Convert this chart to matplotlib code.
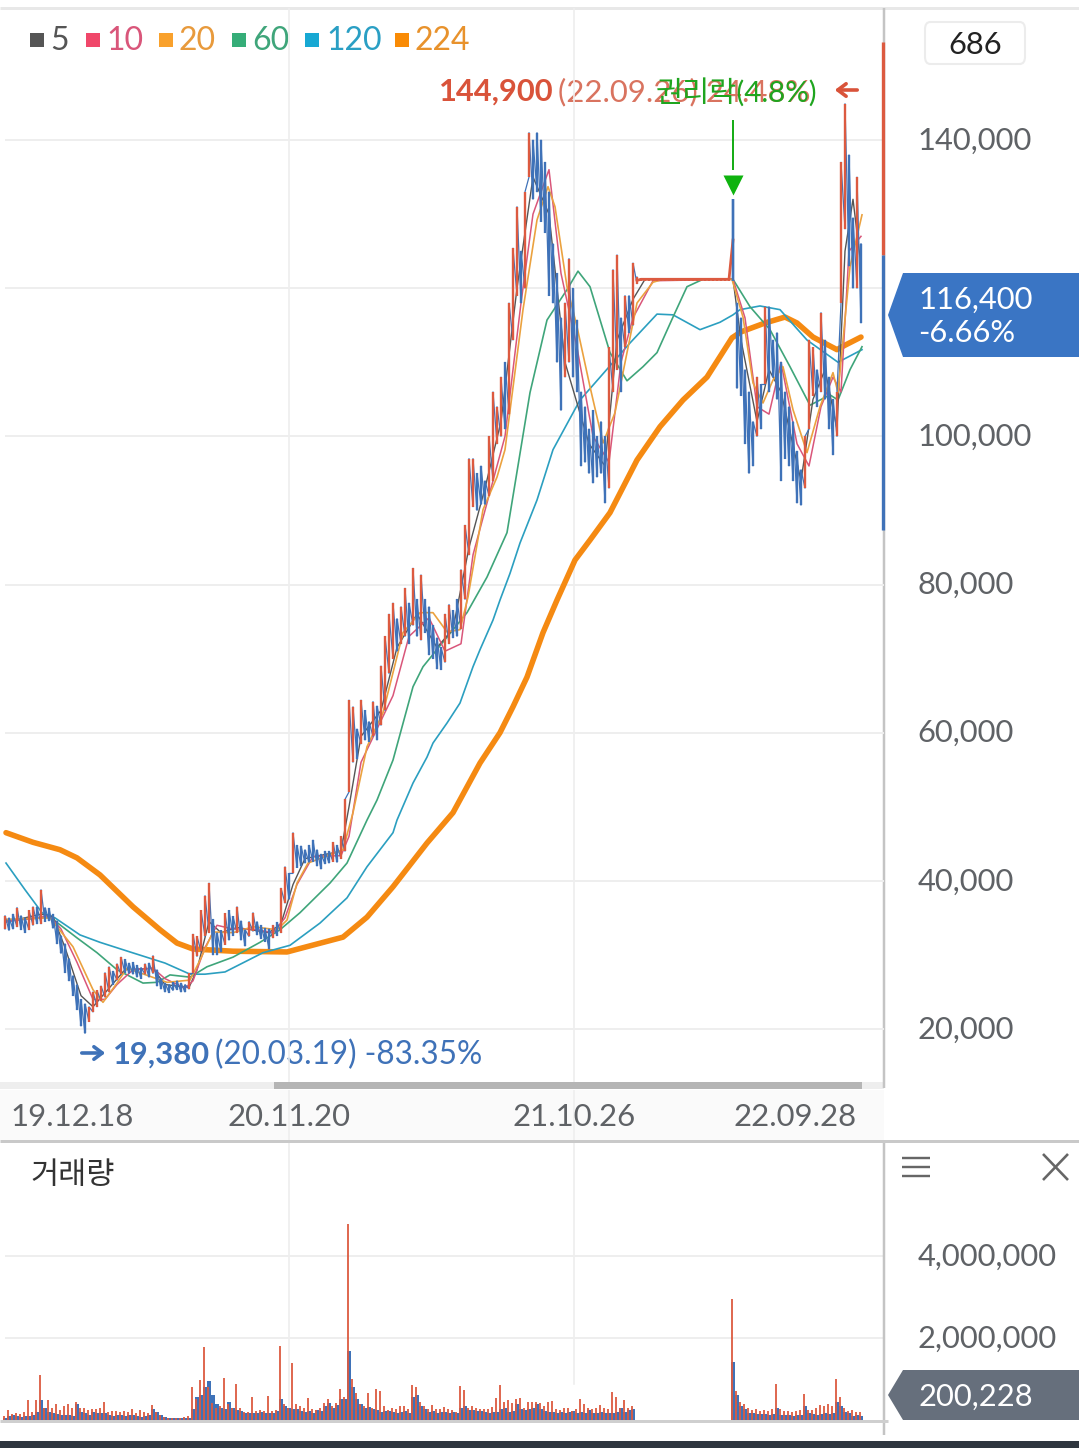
import numpy as np
import matplotlib
matplotlib.use('Agg')
import matplotlib.pyplot as plt
from matplotlib.lines import Line2D
from matplotlib.patches import Rectangle, Polygon, FancyBboxPatch, FancyArrowPatch
from matplotlib.transforms import ScaledTranslation

W, H = 1079, 1448
plt.rcParams['font.family'] = ['Lato', 'Noto Sans CJK KR', 'DejaVu Sans']

# price in thousands of won, one candle per chart step
candle_high = [35.3, 35, 35.5, 36.4, 35.3, 35, 36, 36.5, 36.5, 38.8, 36.4, 36.3, 35.5, 34.6, 32.6, 31.5, 29.5, 27.2, 26, 24,
               23.4, 23, 25, 25.2, 25.8, 27.6, 28.4, 27.8, 28.8, 29.7, 29.4, 28.9, 29, 28.6, 28.3, 28.8, 28.9, 29.9, 28, 26.8,
               26.2, 26, 26.3, 26.5, 26.2, 26, 27.5, 32.8, 32.5, 36, 38, 39.7, 34.8, 33, 33.3, 35.6, 36, 35.2, 36.5, 34.6,
               33.4, 34.5, 35.7, 34.5, 34, 33.6, 33.5, 34, 34.4, 39, 41.9, 41, 46.5, 44.8, 44.7, 44.2, 44.8, 45.5, 44.2, 43.6,
               44, 44, 45.2, 44.8, 46, 51, 64.4, 63.5, 60.5, 64.4, 63, 61.5, 64.2, 63.6, 69, 73, 76, 77.5, 75.4, 77,
               79.5, 77.5, 82.2, 78, 81.3, 78, 77, 74.5, 72.8, 71.5, 76, 77.3, 76.5, 78, 82, 88, 97, 97, 95, 96,
               94, 100, 106, 104, 108, 110, 118, 125.4, 131, 125, 133, 141, 140, 141, 140, 137, 133, 126, 122, 116,
               118, 124, 120, 115.7, 106, 104, 101, 103.5, 100, 102, 100, 112, 122.5, 124.5, 116, 119, 119, 123.4, 121.5]
candle_low = [33.5, 33.3, 33.5, 33.8, 33.4, 33, 33.4, 34, 34.2, 34.2, 34.5, 34.6, 33.6, 31.5, 30.2, 27.6, 26.5, 24.5, 22.6, 20.4,
              19.4, 21, 22.3, 23, 23.8, 24.3, 25, 26, 26.6, 27.4, 27.6, 27.5, 27.4, 27, 26.8, 27.4, 27, 27.5, 25.8, 25.4,
              25, 24.9, 25.2, 25.3, 25, 25, 25.4, 27.5, 29.8, 30.5, 32.5, 33, 30, 30, 30.4, 31.4, 32, 32.6, 33, 32,
              31.2, 32.5, 33.2, 32.7, 32.2, 31.8, 30.8, 32.3, 32.6, 33, 37, 37.5, 41, 41.8, 42, 42.4, 42.5, 42.6, 42, 41.6,
              42.3, 42.4, 42.6, 42.5, 43, 44, 52, 56, 56.5, 58.5, 59, 58.8, 59.5, 59, 61, 63, 68, 70, 71, 72,
              73, 72, 74.5, 73, 72.5, 73.5, 70.5, 70, 68.6, 68.5, 69.5, 72, 72.8, 73, 74, 78, 84, 90.5, 90, 90.8,
              90.8, 92, 94, 99, 100, 101, 103, 113, 119, 118, 120, 135, 132, 133, 129, 127.5, 119, 118, 110, 103.5,
              108, 110, 108, 106, 96, 96.5, 95, 93.7, 94.5, 95, 91, 93, 106, 109, 106, 112, 114, 115, 120.6]
halt_high = [121.4] * 23
halt_low = [121.0] * 23
after_high = [132, 118, 116, 109, 106, 102, 108, 107, 117.5, 117.5, 113, 114, 110, 106, 104, 102, 98, 95.5, 100, 113,
              112, 109, 116.7, 113, 108, 105, 106, 137, 144.9, 138, 129.5, 135, 126]
after_low = [121, 106.5, 105.5, 99, 95, 96, 100, 101, 107, 106, 108, 105, 94, 97, 96, 94, 91, 90.7, 93, 101,
             105.5, 104, 106, 105, 101, 97.5, 100, 118, 128, 123, 120, 120, 115.3]
blue_candles = [182]

ma5_x = [0, 9, 12, 15, 19, 22, 26, 30, 37, 40, 46, 48, 51, 54, 58, 66, 69, 72, 75, 84, 86, 89, 94, 98, 103, 108, 112, 116,
         120, 124, 128, 132, 136, 140, 146, 150, 153, 157, 160, 182, 184, 188, 191, 194, 199, 202, 205, 208, 210, 212, 214]
ma5 = [34.4, 35.5, 35.2, 31, 24.5, 23, 25.5, 28, 28.2, 26, 25.6, 28, 34.5, 33, 33.7, 33, 34.2, 39.5, 43, 44, 50, 59.5, 63, 71.5,
       76, 71.5, 74, 85, 93, 102, 120, 135, 130, 110, 99, 96, 113, 118.5, 121.2, 121.2, 113, 102, 109, 106, 94, 105, 109, 101,
       125, 132, 123]
ma10_x = [0, 8, 11, 14, 18, 22, 25, 28, 32, 37, 40, 45, 47, 50, 53, 57, 62, 67, 70, 73, 77, 84, 86, 89, 93, 97, 101, 106,
          110, 114, 117, 121, 125, 129, 132, 136, 139, 143, 147, 151, 154, 157, 162, 182, 185, 188, 191, 194, 198, 201, 204,
          207, 209, 211, 214]
ma10 = [34.5, 35, 35.3, 33.5, 29, 24, 24, 26, 28, 28.2, 26.8, 25.5, 26.5, 31, 34, 33.5, 33.5, 33, 35, 39.5, 43.3, 43.4, 46, 56,
        60.5, 65, 73, 75.5, 71, 72, 84, 92, 100, 118, 130, 136, 122, 112, 100, 96.5, 110, 116, 121, 121.2, 116, 104, 103, 110,
        99, 96, 104, 108, 106, 125, 127]
ma20_x = [0, 11.25, 17, 22, 24.5, 28, 30.5, 40.5, 46.25, 48.75, 52, 57, 62, 68, 70.5, 73, 75.75, 84.5, 87, 90.5, 94.5, 99.5,
          103.75, 107, 110.5, 113.75, 115.75, 119.5, 123, 125, 129.5, 133, 135.75, 137.5, 140.5, 143, 146.25, 149.5, 152.5,
          155.5, 158, 162, 164.5, 181.75, 184.5, 187, 189.5, 192, 194.5, 197, 200.5, 203.75, 207, 208.25, 211.25, 214.25]
ma20 = [34.8, 35, 31.1, 25.3, 23.6, 26.2, 28.2, 26.3, 26.6, 29.3, 33.1, 33, 33.8, 33.4, 34.7, 39.7, 42.4, 44.2, 49.2, 58.1, 62.7,
        73.5, 76.2, 76.2, 73.6, 73.9, 78.3, 90.1, 94.5, 98.2, 117.1, 129.2, 133.7, 131, 120.2, 114.8, 106.7, 99.1, 103.2, 111.3,
        118, 120.8, 121.2, 121.2, 116.1, 107.2, 104.5, 107.6, 109.4, 103.6, 97.8, 104, 108.6, 105.9, 122.9, 129.9]
ma60_x = [0, 11.25, 18, 23, 28, 34.5, 38, 41.25, 46.25, 50.5, 57, 63.75, 68.75, 73.75, 81.25, 85.5, 90.5, 93, 97, 102, 104.5,
          110.5, 115.5, 120.5, 125.5, 131.25, 135.5, 140.5, 143.25, 146.25, 151.25, 155.5, 159.5, 163, 167, 170.5, 174.5, 182,
          186.25, 191.25, 196.25, 201.25, 206.25, 208.25, 211.25, 214.25]
ma60 = [34.6, 35.1, 32.3, 30.3, 28, 26.2, 26.3, 27.3, 27, 28.4, 29.7, 31.7, 33.4, 35.7, 39.7, 42.4, 48.2, 50.9, 56.3, 66.2, 68.9,
        72.9, 76.2, 81, 87, 105.9, 115.7, 119.8, 122.3, 120.2, 111.3, 107.5, 109.4, 111.3, 116.1, 120.2, 121.2, 121.2, 117.5,
        114.4, 109.4, 104.2, 105.6, 104.9, 109, 112.1]
ma120_x = [0.25, 5, 9.25, 12.5, 18.75, 23.75, 31.25, 40, 46.25, 50, 55, 64.5, 71.25, 78.75, 85.5, 90.5, 97, 98, 102, 105.5, 107,
           110.5, 113.75, 117, 118.75, 122, 123.75, 126.25, 128.75, 133, 137, 143.75, 156.25, 163, 167, 173.75, 178.75, 182,
           183.75, 188.75, 193.75, 200.5, 208.25, 214.25]
ma120 = [42.4, 38.8, 35.7, 35, 32.7, 31.7, 30.4, 28.9, 27.4, 27.4, 27.7, 30.3, 31.3, 34.3, 37.7, 41.9, 46.5, 48.2, 53.2, 56.7, 58.6,
         61.3, 64, 68.9, 71.2, 75.2, 77.9, 81.5, 85.6, 91.4, 98.2, 104.9, 112.6, 116.5, 116.4, 114.4, 115.4, 116.4, 117.1, 117.6,
         117.1, 113, 110, 111.7]
ma224_x = [0.25, 7, 13.75, 18, 23.75, 32, 38.75, 43, 47, 57, 70.5, 84.5, 90.5, 97, 105.5, 112, 118.75, 123.75, 127, 130.5,
           134.5, 138, 142.5, 146.25, 151.25, 158, 163.75, 169.5, 175.5, 181.75, 184, 190, 195, 198, 202, 208, 210, 214]
ma224 = [46.5, 45.2, 44.2, 43.1, 40.8, 36.5, 33.4, 31.6, 30.8, 30.5, 30.4, 32.4, 35.1, 39.2, 45.1, 49.2, 55.9, 60, 63.5, 67.5,
         73.5, 77.9, 83.3, 86, 89.7, 96.8, 101.3, 104.9, 108, 113.3, 114.1, 115.3, 116.1, 115.3, 113.4, 111.7, 112.3, 113.4]

# volume in thousands of shares
vol_blue_a = [60, 90, 110, 90, 70, 100, 90, 130, 200, 480, 300, 200, 180, 150, 120, 110, 130, 100, 400, 200,
              170, 130, 200, 180, 170, 170, 110, 100, 130, 130, 100, 110, 130, 100, 80, 100, 130, 280, 200, 110,
              70, 50, 40, 50, 40, 50, 60, 280, 550, 600, 800, 950, 600, 400, 300, 260, 450, 300, 250, 220,
              180, 170, 180, 160, 200, 170, 160, 180, 220, 500, 350, 300, 280, 260, 220, 200, 210, 180, 240, 220,
              350, 420, 300, 360, 500, 500, 1680, 800, 500, 400, 300, 320, 260, 240, 200, 220, 220, 190, 180, 190,
              210, 170, 560, 600, 350, 260, 200, 210, 180, 190, 200, 170, 190, 160, 300, 330, 240, 240, 230, 210,
              190, 180, 190, 200, 260, 300, 200, 230, 380, 260, 250, 260, 300, 380, 280, 230, 200, 190, 170, 200,
              180, 200, 210, 170, 190, 180, 240, 160, 180, 200, 180, 160, 160, 200, 290, 190, 250, 270]
vol_red_a = [100, 240, 150, 180, 150, 200, 490, 200, 490, 1100, 300, 490, 300, 380, 250, 330, 400, 300, 440, 300,
             290, 250, 260, 270, 290, 440, 200, 210, 220, 200, 210, 200, 270, 180, 240, 200, 180, 360, 200, 120,
             80, 60, 50, 50, 60, 70, 90, 800, 500, 970, 1790, 800, 420, 300, 350, 1030, 400, 300, 880, 300,
             200, 190, 550, 230, 240, 210, 590, 230, 240, 1800, 400, 300, 1400, 380, 340, 300, 530, 280, 240, 300,
             420, 500, 340, 420, 750, 570, 4780, 1000, 650, 400, 350, 660, 300, 750, 700, 340, 250, 290, 260, 330,
             350, 280, 850, 800, 440, 330, 260, 370, 280, 280, 320, 270, 250, 200, 840, 720, 300, 330, 300, 280,
             270, 260, 310, 540, 850, 450, 480, 420, 500, 530, 300, 430, 440, 450, 420, 350, 450, 470, 280, 250,
             300, 290, 230, 280, 510, 400, 300, 270, 300, 360, 300, 260, 680, 560, 300, 480, 300, 350]
vol_halt = [0] * 24
vol_blue_b = [1420, 600, 350, 280, 180, 170, 150, 150, 140, 130, 150, 300, 130, 120, 110, 100, 130, 120, 350, 180,
              150, 130, 150, 170, 140, 170, 450, 350, 200, 170, 100, 120, 100]
vol_red_b = [2950, 700, 450, 400, 300, 250, 280, 210, 240, 210, 260, 880, 270, 220, 210, 200, 220, 240, 640, 240,
             250, 300, 370, 350, 400, 330, 1000, 550, 300, 210, 240, 190, 200]

price_ticks = [20000, 40000, 60000, 80000, 100000, 120000, 140000]
price_labels = ['20,000', '40,000', '60,000', '80,000', '100,000', '', '140,000']
vol_ticks = [2000000, 4000000]
vol_labels = ['2,000,000', '4,000,000']
grid_x = [71, 142.25]
date_x = [16.75, 71, 142.25, 197.5]
date_labels = ['19.12.18', '20.11.20', '21.10.26', '22.09.28']
range_up = [124500, 153200]
range_down = [87400, 124500]
legend_names = ['5', '10', '20', '60', '120', '224']
legend_square = ['#555555', '#f0476a', '#f9a12c', '#35ad78', '#17a8d3', '#f98b05']
legend_text = ['#555555', '#d9567a', '#e89a3c', '#3fa57a', '#2a9fc4', '#e8922c']

RED = '#dc5a40'
BLUE = '#3f72b8'
GRID = '#eeeeee'
LABEL = '#5f6266'


def px_axes(left, top, right, bottom):
    return fig.add_axes([left / W, 1 - bottom / H, (right - left) / W, (bottom - top) / H])


def fx(x):
    return x / W


def fy(y):
    return 1 - y / H


def put(x, y, s, **kw):
    kw.setdefault('va', 'center')
    kw.setdefault('fontsize', 22.2)
    fig.text(fx(x), fy(y + 2), s, **kw)


def line(x0, y0, x1, y1, color, width):
    fig.add_artist(Line2D([fx(x0), fx(x1)], [fy(y0), fy(y1)], color=color, lw=width * 0.72, solid_capstyle='butt'))


def rect(x0, y0, x1, y1, color):
    fig.add_artist(Rectangle((fx(x0), fy(y1)), (x1 - x0) / W, (y1 - y0) / H, color=color, lw=0))


def arrow(x0, x1, y, color):
    fig.add_artist(FancyArrowPatch((fx(x0), fy(y)), (fx(x1), fy(y)), transform=fig.transFigure,
                                   arrowstyle='->,head_length=6,head_width=4.5', color=color, lw=2.6))


fig = plt.figure(figsize=(W / 100, H / 100), dpi=100)
up_shift = ScaledTranslation(0, 2 / 100, fig.dpi_scale_trans)

high = np.array(candle_high + halt_high + after_high) * 1000
low = np.array(candle_low + halt_low + after_low) * 1000
sessions = np.arange(len(high))
mid = (high + low) / 2
# strong advances print red, the noise stays blue
rising = np.r_[True, mid[1:] > mid[:-1] * 1.015]
halt_start = len(candle_high)
halt_end = halt_start + len(halt_high)
rising[halt_start:halt_end] = True
rising[blue_candles] = False

xlim = (-1.25, 219.75)

# price panel
ax = px_axes(0, 8, 884, 1082)
ax.set_zorder(5)
ax.set_xlim(xlim)
ax.set_ylim(12846, 157820)
ax.hlines(price_ticks, 0, xlim[1], color=GRID, lw=1.4, zorder=0)
for x in grid_x:
    ax.axvline(x, color=GRID, lw=1.2, zorder=0)

ax.plot(ma224_x, np.array(ma224) * 1000, color='#f58a12', lw=4, zorder=2, solid_capstyle='round')
ax.plot(ma120_x, np.array(ma120) * 1000, color='#2b9fc0', lw=1.2, zorder=2)
ax.plot(ma60_x, np.array(ma60) * 1000, color='#3fa57a', lw=1.2, zorder=2)
ax.plot(ma5_x, np.array(ma5) * 1000, color='#555555', lw=1.0, zorder=2)
ax.plot(ma10_x, np.array(ma10) * 1000, color='#d9567a', lw=1.1, zorder=2)
ax.plot(ma20_x, np.array(ma20) * 1000, color='#eba23f', lw=1.2, zorder=2)

# low-high trace through the candles, gives the dense look of the daily bars
trace_x = np.repeat(sessions, 2).astype(float)
trace_y = np.column_stack([low, high]).ravel()
trace_y[2 * halt_start:2 * (halt_end + 1)] = np.nan
ax.plot(trace_x, trace_y, color=BLUE, lw=0.9, zorder=3)
ax.vlines(sessions, low, high, colors=[RED if r else BLUE for r in rising], lw=1.7, zorder=3)
ax.plot(sessions[halt_start - 1:halt_end + 1], mid[halt_start - 1:halt_end + 1], color=RED, lw=2, zorder=3)
ax.vlines(blue_candles, low[blue_candles], high[blue_candles], color=BLUE, lw=1.7, zorder=3)

# range bars beside the axis
ax.vlines(0.9985, *range_up, color=RED, lw=2.4, transform=ax.get_yaxis_transform(), clip_on=False)
ax.vlines(0.9985, *range_down, color=BLUE, lw=2.4, transform=ax.get_yaxis_transform(), clip_on=False)

# ex-rights marker
ax.vlines(182, 136000, 142700, color='#12ab12', lw=1.4, zorder=4)
ax.plot([182], [133900], marker='v', ms=15, color='#0fb30f', mec='none', zorder=4)

ax.set_yticks(price_ticks, price_labels)
ax.yaxis.tick_right()
ax.tick_params(axis='y', length=0, pad=24, labelsize=22.2, labelcolor=LABEL)
for t in ax.get_yticklabels():
    t.set_transform(t.get_transform() + up_shift)
ax.set_xticks([])
for s in ax.spines.values():
    s.set_visible(False)
ax.patch.set_alpha(0)

# date band
band = px_axes(0, 1090, 884, 1140)
band.set_xlim(xlim)
band.set_ylim(0, 1)
band.set_facecolor('#fafafa')
band.set_xticks([])
band.set_yticks([])
for s in band.spines.values():
    s.set_visible(False)
for x in grid_x:
    band.axvline(x, color=GRID, lw=1.2, zorder=0)
for x, label in zip(date_x, date_labels):
    band.text(x, 0.46, label, ha='center', va='center', fontsize=22.4, color=LABEL)

# volume panel
vol = px_axes(0, 1143, 884, 1420)
vol.set_xlim(xlim)
vol.set_ylim(0, 6756000)
vol.hlines(vol_ticks, 0, xlim[1], color=GRID, lw=1.4, zorder=0)
vol.axvline(grid_x[0], color=GRID, lw=1.2, zorder=0)
vol.axvline(grid_x[1], ymin=0.13, color=GRID, lw=1.2, zorder=0)
red_vol = np.array(vol_red_a + vol_halt + vol_red_b) * 1000
blue_vol = np.array(vol_blue_a + vol_halt + vol_blue_b) * 1000
vol.bar(np.arange(len(blue_vol)), blue_vol, width=1.0, color=BLUE, lw=0, zorder=2)
vol.vlines(np.arange(len(red_vol)) - 0.25, 0, red_vol, color=RED, lw=1.3, zorder=3)
vol.set_yticks(vol_ticks, vol_labels)
vol.yaxis.tick_right()
vol.tick_params(axis='y', length=0, pad=24, labelsize=22.2, labelcolor=LABEL)
for t in vol.get_yticklabels():
    t.set_transform(t.get_transform() + up_shift)
vol.set_xticks([])
for s in vol.spines.values():
    s.set_visible(False)
vol.patch.set_alpha(0)

# frame pieces
line(0, 8, W, 8, '#e8e8e8', 3)
rect(0, 1082, 884, 1089, '#eeeeee')
rect(274, 1082, 862, 1089, '#b5b5b5')
line(0, 1141, W, 1141, '#c9c9c9', 3)
line(884, 8, 884, 1088, '#c4c4c4', 2.5)
line(884, 1143, 884, 1435, '#c4c4c4', 2.5)
line(0, 1421, 888, 1421, '#cfcfcf', 3)
rect(0, 1441, W, H, '#2f363f')

# legend
square_x = [30, 86, 159, 232, 305, 395]
text_x = [50, 106, 179, 252, 326, 415]
for sx, tx, name, sq, tc in zip(square_x, text_x, legend_names, legend_square, legend_text):
    rect(sx, 33, sx + 14, 47, sq)
    put(tx, 39, name, color=tc, fontsize=23)

# high / low labels
put(439, 90, '144,900', color='#d9533a', fontweight='bold', fontsize=22.2)
put(558, 90, '(22.09.26) 24.48%', color='#d9735f', fontsize=22.4)
put(656, 90, '권리락(4.8%)', color='#1fa51f', family=['Lato', 'Noto Sans CJK KR'], fontsize=21.2)
arrow(860, 832, 90, '#d9533a')
arrow(79, 108, 1053, BLUE)
put(113, 1053, '19,380', color=BLUE, fontweight='bold', fontsize=22.2)
put(215, 1053, '(20.03.19) -83.35%', color=BLUE, fontsize=22.7)

# right side badges
fig.add_artist(FancyBboxPatch((fx(925), fy(64)), 100 / W, 42 / H, boxstyle='round,pad=0,rounding_size=0.005',
                              transform=fig.transFigure, fc='white', ec='#ececec', lw=1.5))
put(975, 43, '686', ha='center', color='#222222')
px_pts = [(888, 315), (903, 273), (1079, 273), (1079, 357), (903, 357)]
fig.add_artist(Polygon([(fx(a), fy(b)) for a, b in px_pts], transform=fig.transFigure, fc='#3a75c4', lw=0))
put(918, 298, '116,400', color='white')
put(918, 331, '-6.66%', color='white')
px_pts = [(888, 1395), (903, 1370), (1079, 1370), (1079, 1420), (903, 1420)]
fig.add_artist(Polygon([(fx(a), fy(b)) for a, b in px_pts], transform=fig.transFigure, fc='#666f7c', lw=0))
put(918, 1395, '200,228', color='white')

# volume panel header and buttons
put(30, 1174, '거래량', color='#333333', family=['Noto Sans CJK KR'], fontsize=22)
for y in [1158, 1167, 1176]:
    line(902, y, 930, y, '#666666', 2.4)
line(1043, 1154, 1068, 1180, '#666666', 2.6)
line(1043, 1180, 1068, 1154, '#666666', 2.6)

fig.savefig('out.png', dpi=100, facecolor='white')
